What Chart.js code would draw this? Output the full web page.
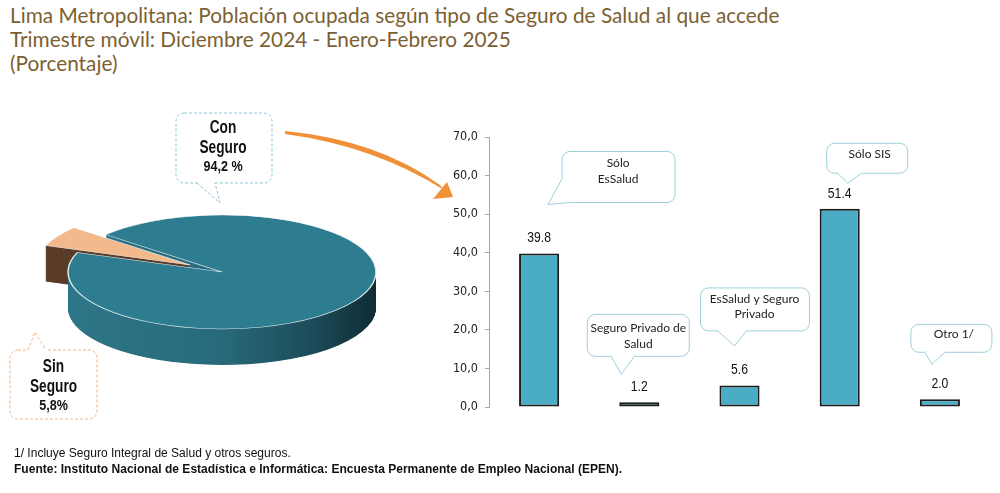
<!DOCTYPE html>
<html lang="es">
<head>
<meta charset="utf-8">
<script src="https://cdn.jsdelivr.net/npm/chart.js@4.4.1/dist/chart.umd.min.js"></script>
<style>
  html, body { margin: 0; padding: 0; background: #fff; }
  body { width: 1000px; height: 493px; position: relative; overflow: hidden; }
  .title { position: absolute; left: 10px; top: 3px; font-family: Lato, "Open Sans", sans-serif; font-size: 20.8px; line-height: 24px; color: #7d5f32; white-space: nowrap; }
  #pieChart { position: absolute; left: 0; top: 100px; }
  #barChart { position: absolute; left: 440px; top: 120px; }
  #arrow { position: absolute; left: 0; top: 0; pointer-events: none; }
  .notes { position: absolute; left: 14px; top: 445px; font-family: "Liberation Sans", Arial, sans-serif; font-size: 13px; line-height: 16px; color: #111; white-space: nowrap; transform: scaleX(0.925); transform-origin: 0 0; }
  .notes b { font-weight: bold; }
</style>
</head>
<body>
<div class="title">
  Lima Metropolitana: Población ocupada según tipo de Seguro de Salud al que accede<br>
  Trimestre móvil: Diciembre 2024 - Enero-Febrero 2025<br>
  (Porcentaje)
</div>

<canvas id="pieChart" width="444" height="344"></canvas>
<canvas id="barChart" width="560" height="310"></canvas>

<svg id="arrow" width="1000" height="493">
  <path d="M285,131 Q378,140 440,185 L444,190 Q374,146 285,134 Z" fill="#f0913a"/>
  <polygon points="453,197 433,199 447,182" fill="#f0913a"/>
</svg>

<div class="notes">
  1/ Incluye Seguro Integral de Salud y otros seguros.<br>
  <b>Fuente: Instituto Nacional de Estadística e Informática: Encuesta Permanente de Empleo Nacional (EPEN).</b>
</div>

<script>
// datos
const pieLabels = ['Con Seguro', 'Sin Seguro'];
const pieValues = [94.2, 5.8];
const pieValueText = ['94,2 %', '5,8%'];

const categories = ['Sólo EsSalud', 'Seguro Privado de Salud', 'EsSalud y Seguro Privado', 'Sólo SIS', 'Otro 1/'];
const calloutLines = [['Sólo', 'EsSalud'], ['Seguro Privado de', 'Salud'], ['EsSalud y Seguro', 'Privado'], ['Sólo SIS'], ['Otro 1/']];
const shares = [39.8, 1.2, 5.6, 51.4, 2.0];
const yTickLabels = ['0,0', '10,0', '20,0', '30,0', '40,0', '50,0', '60,0', '70,0'];

const NARROW = '"Liberation Sans Narrow", "Arial Narrow", "DejaVu Sans Condensed", sans-serif';
const ARIAL = '"Liberation Sans", Arial, sans-serif';

// how far each slice is pulled out of the pie (px, before tilt)
const explode = [0, 37];

// callout boxes, relative to the top centre of each bar
const calloutLayout = [
    { box: [23, -102, 136, -51], tail: [[23, -75], [9, -49], [31, -51]], text: [79, -90] },
    { box: [-52, -88, 50, -46], tail: [[-28, -46], [-18, -28], [-5, -46]], text: [-1, -74] },
    { box: [-39, -97.5, 70, -54.5], tail: [[-22, -54.5], [-5, -39.5], [7, -54.5]], text: [15, -86.5] },
    { box: [-13, -65.5, 68, -35.5], tail: [[-2, -35.5], [8, -25.5], [22, -35.5]], text: [30, -54.5] },
    { box: [-29, -75, 52, -47], tail: [[-15, -47], [-8, -35], [5, -47]], text: [14, -65] }
];

// pie callouts, relative to the pie centre
const pieCalloutLayout = [
    { box: [-46, -159, 50, -89], tail: [[-25, -89], [-2, -69], [-7, -89]], text: [1, -144], stroke: '#8cc6d3' },
    { box: [-212, 78, -125, 147], tail: [[-194, 78], [-187, 60], [-176, 78]], text: [-168.5, 95], stroke: '#f2b48a' }
];

function narrowText(ctx, text, x, y, font, sx) {
    ctx.save();
    ctx.font = font;
    ctx.translate(x, y);
    ctx.scale(sx, 1);
    ctx.fillText(text, 0, 0);
    ctx.restore();
}

function drawCallout(ctx, ox, oy, layout, dashed) {
    const [x0, y0, x1, y1] = layout.box.map((v, i) => v + (i % 2 ? oy : ox));
    const pts = layout.tail.map(p => [p[0] + ox, p[1] + oy]);
    const mx = (x0 + x1) / 2, my = (y0 + y1) / 2;

    ctx.save();
    ctx.fillStyle = '#fff';
    ctx.strokeStyle = layout.stroke || '#9fcfdc';
    ctx.lineWidth = 1;
    ctx.setLineDash(dashed ? [3, 2] : []);
    ctx.beginPath();
    ctx.roundRect(x0, y0, x1 - x0, y1 - y0, 8);
    ctx.fill();
    ctx.stroke();

    // hide the border under the tail base
    const inward = p => {
        const dx = mx - p[0], dy = my - p[1], len = Math.hypot(dx, dy);
        return [p[0] + dx / len * 2, p[1] + dy / len * 2];
    };
    const a = inward(pts[0]), b = inward(pts[2]);
    ctx.beginPath();
    ctx.moveTo(a[0], a[1]);
    ctx.lineTo(pts[0][0], pts[0][1]);
    ctx.lineTo(pts[1][0], pts[1][1]);
    ctx.lineTo(pts[2][0], pts[2][1]);
    ctx.lineTo(b[0], b[1]);
    ctx.closePath();
    ctx.fill();

    ctx.beginPath();
    ctx.moveTo(pts[0][0], pts[0][1]);
    ctx.lineTo(pts[1][0], pts[1][1]);
    ctx.lineTo(pts[2][0], pts[2][1]);
    ctx.stroke();
    ctx.restore();
}

// ---------- pie (tilted, with depth) ----------
const TILT = 0.37;
const DEPTH = 36;

function tilt(ctx, cx, cy, dy) {
    ctx.translate(cx, cy + dy);
    ctx.scale(1, TILT);
    ctx.translate(-cx, -cy);
}

const pie3d = {
    id: 'pie3d',
    afterDatasetsUpdate(chart) {
        // pull slices out along their middle angle
        chart.getDatasetMeta(0).data.forEach((arc, i) => {
            const mid = (arc.startAngle + arc.endAngle) / 2;
            arc.x += Math.cos(mid) * explode[i];
            arc.y += Math.sin(mid) * explode[i];
        });
    },
    beforeDatasetsDraw(chart) {
        const ctx = chart.ctx;
        const arcs = chart.getDatasetMeta(0).data;
        const cx = arcs[0].x, cy = arcs[0].y, r = arcs[0].outerRadius;

        const teal = ctx.createLinearGradient(cx - r, 0, cx + r, 0);
        teal.addColorStop(0, '#2d7688');
        teal.addColorStop(0.5, '#286a7b');
        teal.addColorStop(0.8, '#1b4b58');
        teal.addColorStop(1, '#0f2c35');
        const sideColors = [teal, '#5b3d29'];

        for (let d = DEPTH; d > 0; d -= 0.5) {
            ctx.save();
            tilt(ctx, cx, cy, d);
            arcs.forEach((arc, i) => {
                ctx.beginPath();
                ctx.moveTo(arc.x, arc.y);
                ctx.arc(arc.x, arc.y, arc.outerRadius, arc.startAngle, arc.endAngle);
                ctx.closePath();
                ctx.fillStyle = sideColors[i];
                ctx.fill();
            });
            ctx.restore();
        }
        ctx.save();
        tilt(ctx, cx, cy, 0);
    },
    afterDatasetsDraw(chart) {
        const ctx = chart.ctx;
        ctx.restore();
        const arc = chart.getDatasetMeta(0).data[0];
        pieCalloutLayout.forEach((layout, i) => {
            drawCallout(ctx, arc.x, arc.y, layout, true);
            const words = pieLabels[i].split(' ');
            const tx = arc.x + layout.text[0];
            let ty = arc.y + layout.text[1];
            ctx.save();
            ctx.fillStyle = '#111';
            ctx.textAlign = 'center';
            ctx.textBaseline = 'middle';
            words.forEach(w => { narrowText(ctx, w, tx, ty, 'bold 18px ' + ARIAL, 0.76); ty += 20; });
            narrowText(ctx, pieValueText[i], tx, ty - 1, 'bold 15px ' + ARIAL, 0.84);
            ctx.restore();
        });
    }
};

new Chart(document.getElementById('pieChart'), {
    type: 'pie',
    data: {
        labels: pieLabels,
        datasets: [{
            data: pieValues,
            backgroundColor: ['#2e7c8f', '#f2b98d'],
            borderColor: 'rgba(255,255,255,0.85)',
            borderWidth: 1.5,
            clip: false
        }]
    },
    options: {
        responsive: false,
        animation: false,
        radius: 154,
        rotation: 311,
        events: [],
        plugins: { legend: { display: false }, tooltip: { enabled: false } }
    },
    plugins: [pie3d]
});

// ---------- bars ----------
const barLabels = {
    id: 'barLabels',
    afterDatasetsDraw(chart) {
        const ctx = chart.ctx;
        const bars = chart.getDatasetMeta(0).data;
        bars.forEach((bar, i) => {
            drawCallout(ctx, bar.x, bar.y, calloutLayout[i], false);

            ctx.save();
            ctx.fillStyle = '#222';
            ctx.textAlign = 'center';
            ctx.textBaseline = 'middle';
            ctx.font = '12px Lato, "Open Sans", sans-serif';
            let ty = bar.y + calloutLayout[i].text[1];
            calloutLines[i].forEach(line => {
                ctx.fillText(line, bar.x + calloutLayout[i].text[0], ty);
                ty += 15.5;
            });

            ctx.fillStyle = '#111';
            narrowText(ctx, shares[i].toFixed(1), bar.x, bar.y - 15, '14.5px ' + ARIAL, 0.84);
            ctx.restore();
        });
    }
};

new Chart(document.getElementById('barChart'), {
    type: 'bar',
    data: {
        labels: categories,
        datasets: [{
            data: shares,
            backgroundColor: '#4bacc6',
            borderColor: '#1c1c1c',
            borderWidth: 2,
            borderSkipped: false,
            barPercentage: 0.4,
            categoryPercentage: 1
        }]
    },
    options: {
        responsive: false,
        animation: false,
        events: [],
        layout: { padding: { top: 17, right: 10, bottom: 23, left: 0 } },
        plugins: { legend: { display: false }, tooltip: { enabled: false } },
        scales: {
            x: { display: false },
            y: {
                min: 0,
                max: 70,
                ticks: {
                    stepSize: 10,
                    padding: 7,
                    color: '#222',
                    font: { family: NARROW, size: 12.5 },
                    callback: (value, index) => yTickLabels[index]
                },
                grid: { drawOnChartArea: false, tickLength: 4, color: '#a6a6a6' },
                border: { color: '#a6a6a6' },
                afterFit: function (scale) { scale.width = 49; }
            }
        }
    },
    plugins: [barLabels]
});
</script>
</body>
</html>
